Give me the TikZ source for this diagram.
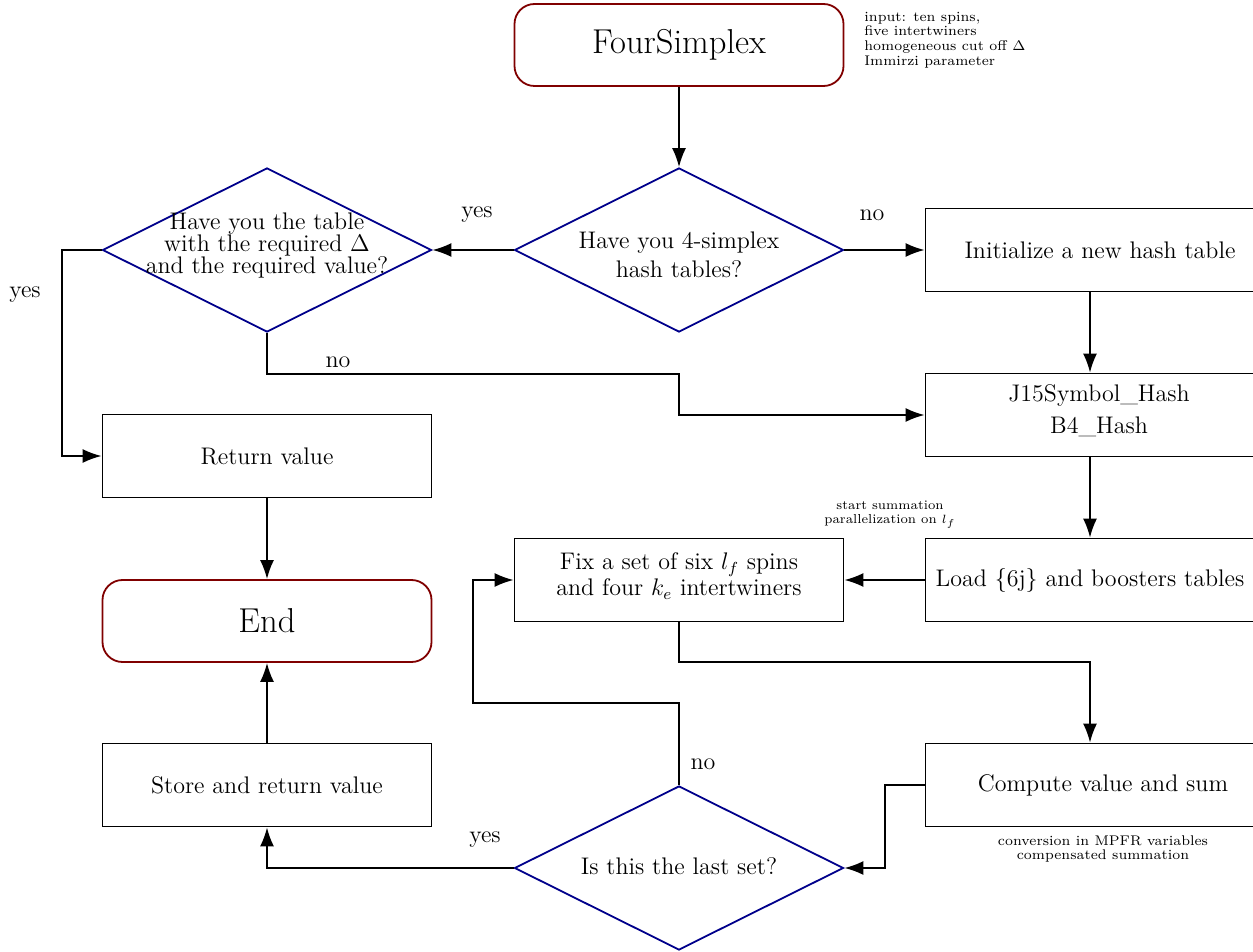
\documentclass[tikz,border=0pt]{standalone}
\usetikzlibrary{shapes.geometric,arrows.meta}
\definecolor{termred}{RGB}{128,0,0}
\definecolor{diablue}{RGB}{0,0,139}
\begin{document}
\begin{tikzpicture}[x=0.5pt,y=-0.5pt,
 every node/.style={font=\fontsize{12}{14.5}\selectfont},
 box/.style={draw, line width=0.9pt, minimum width=164.5pt, minimum height=41.5pt, inner sep=0pt, align=center},
 term/.style={draw=termred, line width=0.9pt, rounded corners=10pt, minimum width=164.5pt, minimum height=41pt, inner sep=0pt, align=center, font=\fontsize{17.28}{21}\selectfont},
 dia/.style={diamond, draw=diablue, line width=0.9pt, minimum width=164.5pt, minimum height=82pt, inner sep=0pt},
 arr/.style={line width=0.9pt, -{Latex[length=9.5pt,width=7pt]}},
 lbl/.style={inner sep=0pt},
 note/.style={font=\fontsize{7}{7.3}\selectfont, inner sep=0pt}]
\useasboundingbox (0,0) rectangle (1253,952);
% nodes
\node[term] (start) at (679,45) {FourSimplex};
\node[note, anchor=west, align=left] (inp) at (864,40) {input: ten spins,\\five intertwiners\\homogeneous cut off $\Delta$\\Immirzi parameter};
\node[dia] (q1) at (679,250) {};
\node[align=center] (q1t) at (679,255) {Have you 4-simplex\\hash tables?};
\node[dia] (q2) at (267,250) {};
\node[align=center, font={\fontsize{12}{11}\selectfont\lineskiplimit=-20pt\relax}] (q2t) at (267,246) {Have you the table\\with the required $\Delta$\\and the required value?};
\node[box] (init) at (1090,250) {\hspace{10pt}Initialize a new hash table};
\node[box, font=\fontsize{12}{16}\selectfont] (j15) at (1090,415) {\hspace{9pt}J15Symbol\_Hash\\\hspace{9pt}B4\_Hash\rule[-6pt]{0pt}{0pt}};
\node[box] (ret) at (267,456) {Return value};
\node[term] (end) at (267,621) {End};
\node[box] (load) at (1090,580) {Load \{6j\} and boosters tables};
\node[box, font=\fontsize{12}{13}\selectfont] (fix) at (679,580) {Fix a set of six $l_f$ spins\\and four $k_e$ intertwiners\rule[-6pt]{0pt}{0pt}};
\node[note, align=center, font=\fontsize{6.5}{7}\selectfont] (sum) at (890,515) {start summation\\parallelization on $l_f$};
\node[box] (comp) at (1090,785) {\hspace{13pt}Compute value and sum};
\node[note, align=center] (mpfr) at (1103,849) {conversion in MPFR variables\\compensated summation};
\node[dia] (q3) at (679,868) {};
\node (q3t) at (679,866) {Is this the last set?};
\node[box] (store) at (267,785) {Store and return value};
% labels
\node[lbl] (l1) at (477,215) {yes};
\node[lbl] (l2) at (872,215) {no};
\node[lbl] (l3) at (338,362) {no};
\node[lbl] (l4) at (25,295) {yes};
\node[lbl] (l5) at (703,764) {no};
\node[lbl] (l6) at (485,840) {yes};
% helper coordinates
\coordinate (c1) at (679,374);
\coordinate (c2) at (62,250);
\coordinate (c3) at (679,662);
\coordinate (c4) at (885,785);
\coordinate (c5) at (679,703);
\coordinate (c6) at (473,703);
% connectors
\draw[arr] (start) -- (q1);
\draw[arr] (q1.west) -- (q2.east);
\draw[arr] (q1.east) -- (init.west);
\draw[arr] (init) -- (j15);
\draw[arr] (q2.south) |- (c1) |- (j15.west);
\draw[arr] (q2.west) -- (c2) |- (ret.west);
\draw[arr] (ret) -- (end);
\draw[arr] (j15) -- (load);
\draw[arr] (load) -- (fix);
\draw[arr] (fix.south) -- (c3) -| (comp.north);
\draw[arr] (comp.west) -- (c4) |- (q3.east);
\draw[arr] (q3.north) -- (c5) -- (c6) |- (fix.west);
\draw[arr] (q3.west) -| (store.south);
\draw[arr] (store) -- (end);
\end{tikzpicture}
\end{document}
